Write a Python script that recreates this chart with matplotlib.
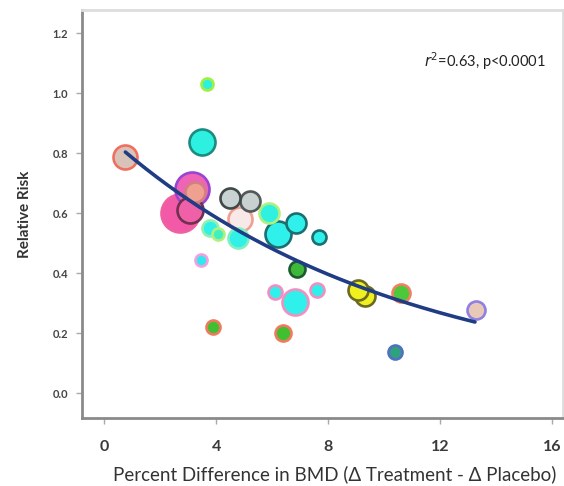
import numpy as np
import matplotlib
matplotlib.use("Agg")
import matplotlib.pyplot as plt

plt.rcParams['font.family'] = ['Lato', 'DejaVu Sans']

# Per-trial results: BMD difference (%), relative risk, trial weight (marker radius, px)
bmd_diff = [0.72, 3.66, 3.48, 3.12, 3.25, 2.70, 3.05, 4.50, 5.20, 4.84, 5.90,
            6.20, 6.85, 7.67, 3.76, 4.05, 4.77, 3.44, 6.90, 6.10, 6.80, 7.60,
            3.90, 6.40, 9.05, 9.30, 10.60, 10.40, 13.30]
rel_risk = [0.787, 1.03, 0.837, 0.68, 0.67, 0.60, 0.61, 0.65, 0.64, 0.58, 0.60,
            0.53, 0.567, 0.52, 0.55, 0.53, 0.517, 0.443, 0.413, 0.337, 0.303, 0.343,
            0.22, 0.20, 0.345, 0.325, 0.333, 0.137, 0.277]
weight = [12, 6, 13, 17, 10, 19, 13, 10, 10, 12, 10,
          13, 10, 7, 8, 6, 10, 6, 8, 7, 13, 7,
          7, 8, 10, 10, 9, 7, 9]
fill_colors = ['#d9c3b8', '#2ef0e0', '#2ef0e0', '#f064b8', '#f0a090', '#f25aa8', '#f060a8',
               '#c8d2d2', '#c8d0d0', '#f8e8e8', '#30f0e0',
               '#30f0ec', '#30f0ec', '#30f0ec', '#30f0e8', '#40f0c0', '#30f0e8', '#30e8f0',
               '#3fb83a', '#30f0ec', '#30f0ec', '#30f0ec',
               '#40c030', '#40c030', '#f0f020', '#f0f020', '#4cc83a', '#2fa080', '#e8c8b8']
edge_colors = ['#f07060', '#a0f040', '#1c8c80', '#9a44d0', '#d08080', '#f060a0', '#703050',
               '#404848', '#505858', '#f0a090', '#b0f080',
               '#1c6e70', '#1c6e70', '#1c6e70', '#90f0b0', '#b0f080', '#80f0c0', '#f0a0e0',
               '#1c5a30', '#f090c0', '#f090c0', '#f090c0',
               '#f07a60', '#f07a60', '#6a6a20', '#6a6a20', '#f08060', '#5070c0', '#9080e0']

# Fitted log-linear relation: RR = exp(a + b * dBMD)
fit_a, fit_b = -0.145, -0.0977
fit_range = (0.75, 13.25)

x_ticks = [0, 4, 8, 12, 16]
y_ticks = [0.0, 0.2, 0.4, 0.6, 0.8, 1.0, 1.2]

fig = plt.figure(figsize=(5.64, 4.86), dpi=100)
ax = fig.add_axes([0.1454, 0.140, 0.853, 0.839])

px2pt = 72 / 100
order = np.argsort(weight, kind='stable')[::-1]
for i in order:
    d = 2 * weight[i] * px2pt
    ax.scatter(bmd_diff[i], rel_risk[i], s=d ** 2, c=fill_colors[i],
               edgecolors=edge_colors[i], linewidths=1.9, zorder=2)

xf = np.linspace(*fit_range, 200)
ax.plot(xf, np.exp(fit_a + fit_b * xf), color='#1f3c84', lw=2.6, zorder=3,
        solid_capstyle='round')

ax.set_xlim(-0.8, 16.4)
ax.set_ylim(-0.083, 1.277)
ax.set_xticks(x_ticks)
ax.set_xticklabels([str(t) for t in x_ticks], fontsize=11.5, color='#3a3a3a',
                   fontweight='bold')
ax.set_yticks(y_ticks)
ax.set_yticklabels([f'{t:.1f}' for t in y_ticks], fontsize=8, color='#444444',
                   fontweight='bold')
ax.tick_params(axis='both', direction='out', length=4, width=1, color='#aaaaaa')
ax.tick_params(axis='x', pad=12)
ax.tick_params(axis='y', pad=6)

for side in ['left', 'bottom']:
    ax.spines[side].set_color('#8a8a8a')
    ax.spines[side].set_linewidth(2)
for side in ['top', 'right']:
    ax.spines[side].set_color('#dddddd')
    ax.spines[side].set_linewidth(2)

ax.set_xlabel('Percent Difference in BMD (\u0394 Treatment - \u0394 Placebo)',
              fontsize=13.5, color='#333333')
ax.xaxis.set_label_coords(0.525, -0.115)
ax.set_ylabel('Relative Risk', fontsize=11, color='#333333', fontweight='bold',
              labelpad=15)

ax.text(0.965, 0.875, r'$\mathit{r}^{2}$=0.63, p<0.0001', transform=ax.transAxes,
        ha='right', va='center', fontsize=10.5, color='#222222')

fig.savefig('out.png', dpi=100)
